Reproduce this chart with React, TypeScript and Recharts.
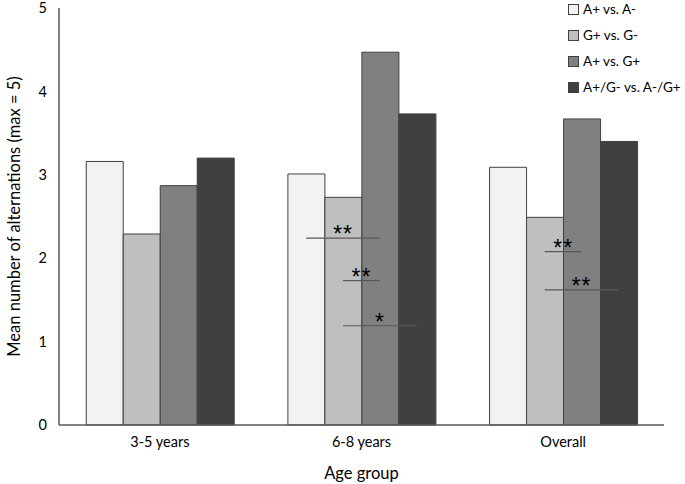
import React from 'react';
import { BarChart, Bar, XAxis, YAxis, Legend, ReferenceLine, ReferenceDot } from 'recharts';

const categories = ['3-5 years', '6-8 years', 'Overall'];
const aPlusVsAMinus = [3.16, 3.01, 3.09];
const gPlusVsGMinus = [2.29, 2.73, 2.49];
const aPlusVsGPlus = [2.87, 4.47, 3.67];
const mixedVsMixed = [3.2, 3.73, 3.4];
const seriesNames = ['A+ vs. A-', 'G+ vs. G-', 'A+ vs. G+', 'A+/G- vs. A-/G+'];
const yTicks = [0, 1, 2, 3, 4, 5];

// significance brackets: group index, from bar, to bar, height, label
const sigGroup = [1, 1, 1, 2, 2];
const sigFrom = [0, 1, 1, 1, 1];
const sigTo = [2, 2, 3, 2, 3];
const sigY = [2.24, 1.73, 1.19, 2.08, 1.62];
const sigLabel = ['**', '**', '*', '**', '**'];

const colors = ['#f2f2f2', '#bfbfbf', '#808080', '#404040'];
const FONT = 'Lato, "Liberation Sans", sans-serif';
const GAP_FRAC = 0.135;
const BAR_FRAC = (1 - 2 * GAP_FRAC) / 4;

const data = categories.map((c, i) => ({
  name: c,
  pos: i + 0.5,
  s0: aPlusVsAMinus[i],
  s1: gPlusVsGMinus[i],
  s2: aPlusVsGPlus[i],
  s3: mixedVsMixed[i],
}));

const barX = (g: number, j: number) => g + 0.5 + (j - 1.5) * BAR_FRAC;

const renderLegend = () => (
  <div style={{ fontFamily: FONT, fontSize: 13.5, color: '#000' }}>
    {seriesNames.map((n, i) => (
      <div key={n} style={{ display: 'flex', alignItems: 'center', height: 26 }}>
        <div
          style={{
            flex: '0 0 auto',
            width: 9,
            height: 9,
            background: colors[i],
            border: '1px solid #404040',
            marginRight: 4,
          }}
        />
        <span style={{ whiteSpace: 'nowrap' }}>{n}</span>
      </div>
    ))}
  </div>
);

const yLabel = (props: any) => {
  const vb = props.viewBox || { x: 0, y: 8, width: 59, height: 417 };
  const cx = 14;
  const cy = vb.y + vb.height / 2;
  return (
    <text
      x={cx}
      y={cy}
      transform={`rotate(-90, ${cx}, ${cy})`}
      textAnchor="middle"
      dominantBaseline="central"
      fontFamily={FONT}
      fontSize={16.5}
      fill="#000"
    >
      Mean number of alternations (max = 5)
    </text>
  );
};

const xLabel = (props: any) => {
  const vb = props.viewBox || { x: 59, y: 425, width: 605, height: 59 };
  return (
    <text
      x={vb.x + vb.width / 2}
      y={479}
      textAnchor="middle"
      fontFamily={FONT}
      fontSize={16.5}
      fill="#000"
    >
      Age group
    </text>
  );
};

export default function App() {
  return (
    <div style={{ position: 'absolute', left: 0, top: 0, width: 685, height: 484, background: '#fff' }}>
      <BarChart
        width={685}
        height={484}
        data={data}
        margin={{ top: 8, right: 21, left: 0, bottom: 0 }}
        barCategoryGap={`${GAP_FRAC * 100}%`}
        barGap={0}
      >
        <XAxis
          dataKey="name"
          height={59}
          axisLine={{ stroke: '#595959', strokeWidth: 1.5 }}
          tickLine={false}
          tickMargin={6}
          tick={{ fontFamily: FONT, fontSize: 14.5, fill: '#000' }}
          label={xLabel}
        />
        <XAxis xAxisId="n" dataKey="pos" type="number" domain={[0, 3]} allowDataOverflow hide />
        <YAxis
          width={59}
          domain={[0, 5]}
          ticks={yTicks}
          interval={0}
          axisLine={{ stroke: '#595959', strokeWidth: 1.5 }}
          tickLine={false}
          tickMargin={6}
          tick={{ fontFamily: FONT, fontSize: 14.5, fill: '#000' }}
          label={yLabel}
        />
        <Legend
          layout="vertical"
          align="center"
          verticalAlign="middle"
          content={renderLegend}
          wrapperStyle={{ left: 568, top: -4, width: 117, height: 106 }}
        />
        {['s0', 's1', 's2', 's3'].map((k, i) => (
          <Bar
            key={k}
            dataKey={k}
            name={seriesNames[i]}
            fill={colors[i]}
            stroke="#404040"
            strokeWidth={1}
            isAnimationActive={false}
          />
        ))}
        {sigY.map((y, i) => (
          <ReferenceLine
            key={`l${i}`}
            xAxisId="n"
            segment={[
              { x: barX(sigGroup[i], sigFrom[i]), y },
              { x: barX(sigGroup[i], sigTo[i]), y },
            ]}
            stroke="#595959"
            strokeWidth={1.2}
          />
        ))}
        {sigY.map((y, i) => (
          <ReferenceDot
            key={`d${i}`}
            xAxisId="n"
            x={(barX(sigGroup[i], sigFrom[i]) + barX(sigGroup[i], sigTo[i])) / 2}
            y={y}
            shape={(p: any) => (
              <text
                x={p.cx}
                y={p.cy + 4}
                textAnchor="middle"
                fontFamily='"Liberation Sans", sans-serif'
                fontSize={23}
                letterSpacing={1}
                fill="#000"
              >
                {sigLabel[i]}
              </text>
            )}
          />
        ))}
      </BarChart>
    </div>
  );
}
